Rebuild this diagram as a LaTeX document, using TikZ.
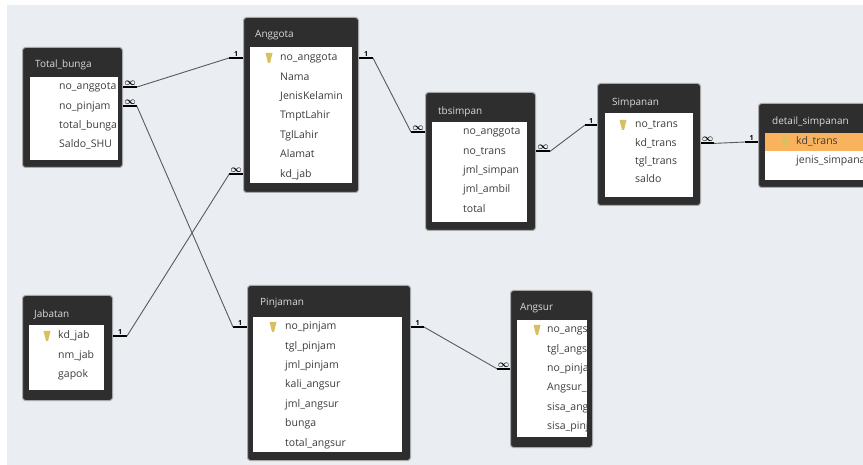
\documentclass[tikz,border=0pt]{standalone}
\usepackage{fontspec}
\newfontfamily\uifont{Open Sans}
\usetikzlibrary{positioning}
\definecolor{bgcol}{HTML}{EAEDF1}
\definecolor{framecol}{HTML}{2E2E2E}
\definecolor{halocol}{HTML}{A8A8A8}
\definecolor{titlecol}{HTML}{DADADA}
\definecolor{fieldcol}{HTML}{3C3C3C}
\definecolor{relcol}{HTML}{5A5A5A}
\definecolor{keycol}{HTML}{D8C060}
\definecolor{hlcol}{HTML}{F9B35C}
\tikzset{
  tableframe/.style={rectangle, rounded corners=3pt, fill=framecol, draw=halocol, line width=1pt, anchor=north west, inner sep=0pt},
  tablebody/.style={rectangle, fill=white, anchor=north west, inner sep=0pt},
  tabletitle/.style={anchor=west, inner sep=0pt, text=titlecol, font=\uifont\fontsize{10}{12}\selectfont},
  field/.style={anchor=west, inner sep=0pt, text=fieldcol, font=\uifont\fontsize{10.5}{12}\selectfont, text height=8pt, text depth=2.5pt, minimum height=19pt},
  nextrow/.style={below=0pt of #1.south west, anchor=north west},
  stub/.style={line width=2pt, black},
  rel/.style={draw=relcol, line width=0.9pt},
  cardone/.style={midway, above=0.5pt, inner sep=0pt, font=\uifont\fontsize{7}{7}\selectfont\bfseries},
  cardmany/.style={midway, above=0.5pt, inner sep=0pt, font=\fontsize{10}{10}\selectfont\boldmath},
  pk/.pic={\fill[keycol] (-3.5,-5) -- (3.5,-5) -- (1,5) -- (-1,5) -- cycle;}
}
\begin{document}
\begin{tikzpicture}[x=1pt, y=-1pt]
\clip (0,0) rectangle (863,465);
\fill[white] (0,0) rectangle (863,465);
\fill[bgcol] (7,5) rectangle (863,465);

% Total_bunga
\node[tableframe, minimum width=100, minimum height=120] (tb) at (22,47) {};
\node[tablebody, minimum width=88, minimum height=83] (tb-body) at (30,77) {};
\node[tabletitle] at (35,65) {Total\_bunga};
\begin{scope}
\clip (30,77) rectangle (118,160);
\node[field] (tb-1) at (59,87) {no\_anggota};
\node[field, nextrow=tb-1] (tb-2) {no\_pinjam};
\node[field, nextrow=tb-2] (tb-3) {total\_bunga};
\node[field, nextrow=tb-3] (tb-4) {Saldo\_SHU};
\end{scope}

% Anggota
\node[tableframe, minimum width=115, minimum height=175] (agt) at (243,17) {};
\node[tablebody, minimum width=102, minimum height=136] (agt-body) at (250,47) {};
\node[tabletitle] at (255,35) {Anggota};
\node[field] (agt-1) at (280,58) {no\_anggota};
\node[field, nextrow=agt-1] (agt-2) {Nama};
\node[field, nextrow=agt-2] (agt-3) {JenisKelamin};
\node[field, nextrow=agt-3] (agt-4) {TmptLahir};
\node[field, nextrow=agt-4] (agt-5) {TglLahir};
\node[field, nextrow=agt-5] (agt-6) {Alamat};
\node[field, nextrow=agt-6] (agt-7) {kd\_jab};
\pic at (269,58) {pk};

% tbsimpan
\node[tableframe, minimum width=110, minimum height=138] (ts) at (425,92) {};
\node[tablebody, minimum width=95, minimum height=100] (ts-body) at (432,122) {};
\node[tabletitle] at (438,112) {tbsimpan};
\node[field] (ts-1) at (463,132) {no\_anggota};
\node[field, nextrow=ts-1] (ts-2) {no\_trans};
\node[field, nextrow=ts-2] (ts-3) {jml\_simpan};
\node[field, nextrow=ts-3] (ts-4) {jml\_ambil};
\node[field, nextrow=ts-4] (ts-5) {total};

% Simpanan
\node[tableframe, minimum width=103, minimum height=122] (sp) at (597,83) {};
\node[tablebody, minimum width=88, minimum height=84] (sp-body) at (605,113) {};
\node[tabletitle] at (612,103) {Simpanan};
\node[field, minimum height=18] (sp-1) at (635,125) {no\_trans};
\node[field, minimum height=18, nextrow=sp-1] (sp-2) {kd\_trans};
\node[field, minimum height=18, nextrow=sp-2] (sp-3) {tgl\_trans};
\node[field, minimum height=18, nextrow=sp-3] (sp-4) {saldo};
\pic at (623,125) {pk};

% detail_simpanan
\node[tableframe, minimum width=120, minimum height=84] (ds) at (758,103) {};
\node[tablebody, minimum width=110, minimum height=47] (ds-body) at (765,133) {};
\fill[hlcol] (765,133) rectangle (875,151);
\node[tabletitle] at (772,122) {detail\_simpanan};
\node[field, minimum height=18] (ds-1) at (796,142) {kd\_trans};
\node[field, minimum height=18, nextrow=ds-1] (ds-2) {jenis\_simpanan};
\pic at (785,142) {pk};

% Jabatan
\node[tableframe, minimum width=90, minimum height=105] (jb) at (22,295) {};
\node[tablebody, minimum width=75, minimum height=65] (jb-body) at (29,325) {};
\node[tabletitle] at (34,315) {Jabatan};
\node[field] (jb-1) at (58,336) {kd\_jab};
\node[field, nextrow=jb-1] (jb-2) {nm\_jab};
\node[field, nextrow=jb-2] (jb-3) {gapok};
\pic at (47,336) {pk};

% Pinjaman
\node[tableframe, minimum width=163, minimum height=175] (pj) at (247,285) {};
\node[tablebody, minimum width=149, minimum height=135] (pj-body) at (253,317) {};
\node[tabletitle] at (260,303) {Pinjaman};
\node[field] (pj-1) at (285,327) {no\_pinjam};
\node[field, nextrow=pj-1] (pj-2) {tgl\_pinjam};
\node[field, nextrow=pj-2] (pj-3) {jml\_pinjam};
\node[field, nextrow=pj-3] (pj-4) {kali\_angsur};
\node[field, nextrow=pj-4] (pj-5) {jml\_angsur};
\node[field, nextrow=pj-5] (pj-6) {bunga};
\node[field, nextrow=pj-6] (pj-7) {total\_angsur};
\pic at (273,327) {pk};

% Angsur
\node[tableframe, minimum width=82, minimum height=157] (ang) at (510,290) {};
\node[tablebody, minimum width=70, minimum height=117] (ang-body) at (517,320) {};
\node[tabletitle] at (520,308) {Angsur};
\begin{scope}
\clip (517,320) rectangle (587,437);
\node[field] (ang-1) at (547,330) {no\_angsur};
\node[field, nextrow=ang-1] (ang-2) {tgl\_angsur};
\node[field, nextrow=ang-2] (ang-3) {no\_pinjam};
\node[field, nextrow=ang-3] (ang-4) {Angsur\_ke};
\node[field, nextrow=ang-4] (ang-5) {sisa\_angsur};
\node[field, nextrow=ang-5] (ang-6) {sisa\_pinjam};
\end{scope}
\pic at (537,330) {pk};

% relationships
\draw[stub] (tb-1 -| tb.east) -- ++(14,0) coordinate (r1a) node[cardmany] {$\infty$};
\draw[stub] (agt-1 -| agt.west) -- ++(-14,0) coordinate (r1b) node[cardone] {1};
\draw[rel] (r1a) -- (r1b);

\draw[stub] (tb-2 -| tb.east) -- ++(14,0) coordinate (r2a) node[cardmany] {$\infty$};
\draw[stub] (pj-1 -| pj.west) -- ++(-14,0) coordinate (r2b) node[cardone] {1};
\draw[rel] (r2a) -- (r2b);

\draw[stub] (jb-1 -| jb.east) -- ++(14,0) coordinate (r3a) node[cardone] {1};
\draw[stub] (agt-7 -| agt.west) -- ++(-14,0) coordinate (r3b) node[cardmany] {$\infty$};
\draw[rel] (r3a) -- (r3b);

\draw[stub] (agt-1 -| agt.east) -- ++(14,0) coordinate (r4a) node[cardone] {1};
\draw[stub] (ts-1 -| ts.west) -- ++(-14,0) coordinate (r4b) node[cardmany] {$\infty$};
\draw[rel] (r4a) -- (r4b);

\draw[stub] (ts-2 -| ts.east) -- ++(14,0) coordinate (r5a) node[cardmany] {$\infty$};
\draw[stub] (sp-1 -| sp.west) -- ++(-12,0) coordinate (r5b) node[cardone] {1};
\draw[rel] (r5a) -- (r5b);

\draw[stub] (sp-2 -| sp.east) -- ++(13,0) coordinate (r6a) node[cardmany] {$\infty$};
\draw[stub] (ds-1 -| ds.west) -- ++(-13,0) coordinate (r6b) node[cardone] {1};
\draw[rel] (r6a) -- (r6b);

\draw[stub] (pj-1 -| pj.east) -- ++(13,0) coordinate (r7a) node[cardone] {1};
\draw[stub] (ang-3 -| ang.west) -- ++(-13,0) coordinate (r7b) node[cardmany] {$\infty$};
\draw[rel] (r7a) -- (r7b);
\end{tikzpicture}
\end{document}
